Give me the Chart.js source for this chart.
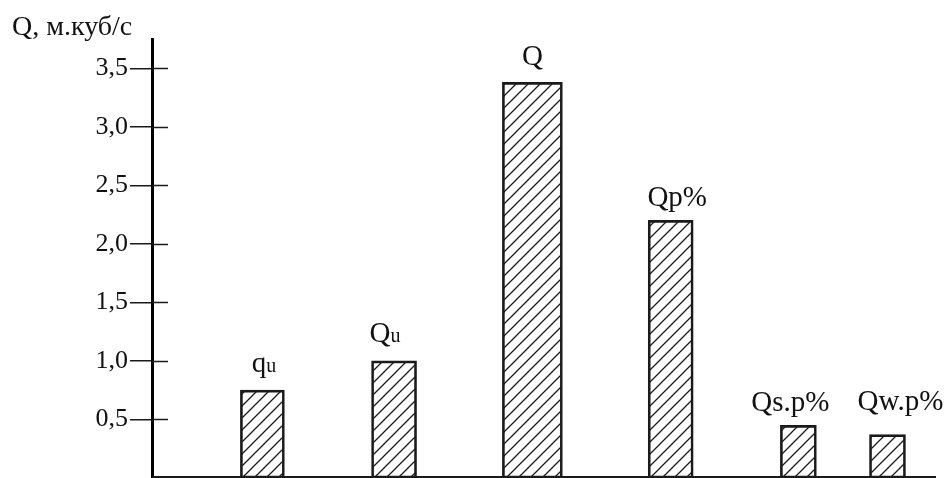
<!DOCTYPE html>
<html>
<head>
<meta charset="utf-8">
<script src="https://cdn.jsdelivr.net/npm/chart.js@4.4.1/dist/chart.umd.min.js"></script>
<style>
html, body { margin: 0; padding: 0; background: #fff; }
</style>
</head>
<body>
<canvas id="myChart" width="950" height="478"></canvas>
<script>
// bar names (main part + small part)
const barNames = ['q', 'Q', 'Q', 'Qp%', 'Qs.p%', 'Qw.p%'];
const barSubs = ['u', 'u', '', '', '', ''];
// flow values, m3/s
const flowValues = [0.75, 1.0, 3.38, 2.2, 0.45, 0.37];
// where each bar sits along the x axis
const barSlots = [0.83, 1.82, 2.86, 3.9, 4.86, 5.53];
const yTicks = [0.5, 1.0, 1.5, 2.0, 2.5, 3.0, 3.5];
const yTitle = 'Q, м.куб/с';

// styling: bar widths and label nudges [dx, gap above bar]
const barWidths = [44, 45, 60, 45, 36, 36];
const labelNudge = [[1.5, 18], [-9, 19], [0, 17], [6.5, 14], [-8, 14], [13, 25]];
const serif = '"Liberation Serif", "DejaVu Serif", serif';

function hatch() {
	const c = document.createElement('canvas');
	c.width = 12; c.height = 12;
	const g = c.getContext('2d');
	g.strokeStyle = '#1a1a1a';
	g.lineWidth = 1.3;
	g.beginPath();
	g.moveTo(-3, 15); g.lineTo(15, -3);
	g.moveTo(-3, 3); g.lineTo(3, -3);
	g.moveTo(9, 15); g.lineTo(15, 9);
	g.stroke();
	return g.createPattern(c, 'repeat');
}
const pattern = hatch();

const datasets = flowValues.map((v, i) => ({
	data: [{ x: barSlots[i], y: v }],
	backgroundColor: pattern,
	borderColor: '#1a1a1a',
	borderWidth: 2,
	borderSkipped: false,
	barThickness: barWidths[i],
	grouped: false
}));

const extras = {
	id: 'extras',
	afterDraw(chart) {
		const ctx = chart.ctx;
		const y = chart.scales.y;
		const area = chart.chartArea;
		ctx.save();
		// tick stubs on the right of the axis
		ctx.strokeStyle = '#1a1a1a';
		ctx.lineWidth = 1.5;
		yTicks.forEach(v => {
			const py = Math.round(y.getPixelForValue(v)) + 0.5;
			ctx.beginPath();
			ctx.moveTo(area.left, py);
			ctx.lineTo(area.left + 16, py);
			ctx.stroke();
		});
		// x axis line
		ctx.lineWidth = 2;
		ctx.beginPath();
		ctx.moveTo(area.left, area.bottom - 1);
		ctx.lineTo(area.right - 14, area.bottom - 1);
		ctx.stroke();
		// axis title
		ctx.fillStyle = '#111';
		ctx.textAlign = 'left';
		ctx.textBaseline = 'alphabetic';
		ctx.font = '28px ' + serif;
		ctx.fillText(yTitle, 12, 35);
		// bar labels
		chart.data.datasets.forEach((ds, i) => {
			const bar = chart.getDatasetMeta(i).data[0];
			ctx.font = '29px ' + serif;
			const mw = ctx.measureText(barNames[i]).width;
			ctx.font = '20px ' + serif;
			const sw = barSubs[i] ? ctx.measureText(barSubs[i]).width : 0;
			const x0 = bar.x + labelNudge[i][0] - (mw + sw) / 2;
			const by = bar.y - labelNudge[i][1];
			ctx.font = '29px ' + serif;
			ctx.fillText(barNames[i], x0, by);
			if (barSubs[i]) {
				ctx.font = '20px ' + serif;
				ctx.fillText(barSubs[i], x0 + mw, by);
			}
		});
		ctx.restore();
	}
};

new Chart(document.getElementById('myChart'), {
	type: 'bar',
	data: { datasets: datasets },
	options: {
		responsive: false,
		animation: false,
		layout: { padding: { top: 39, left: 0, right: 0, bottom: 0 } },
		plugins: { legend: { display: false }, tooltip: { enabled: false } },
		scales: {
			x: {
				type: 'linear',
				display: false,
				min: 0,
				max: 6,
				offset: false
			},
			y: {
				min: 0,
				max: 3.75,
				afterBuildTicks(scale) {
					scale.ticks = yTicks.map(v => ({ value: v }));
				},
				afterFit(scale) {
					scale.width = 152;
					scale.paddingTop = 0;
					scale.paddingBottom = 0;
				},
				grid: {
					drawOnChartArea: false,
					drawTicks: true,
					tickLength: 22,
					color: '#1a1a1a',
					lineWidth: 1.5
				},
				border: { display: true, color: '#000', width: 3 },
				ticks: {
					padding: 2,
					color: '#111',
					font: { family: serif, size: 26 },
					callback: v => v.toFixed(1).replace('.', ',')
				}
			}
		}
	},
	plugins: [extras]
});
</script>
</body>
</html>
